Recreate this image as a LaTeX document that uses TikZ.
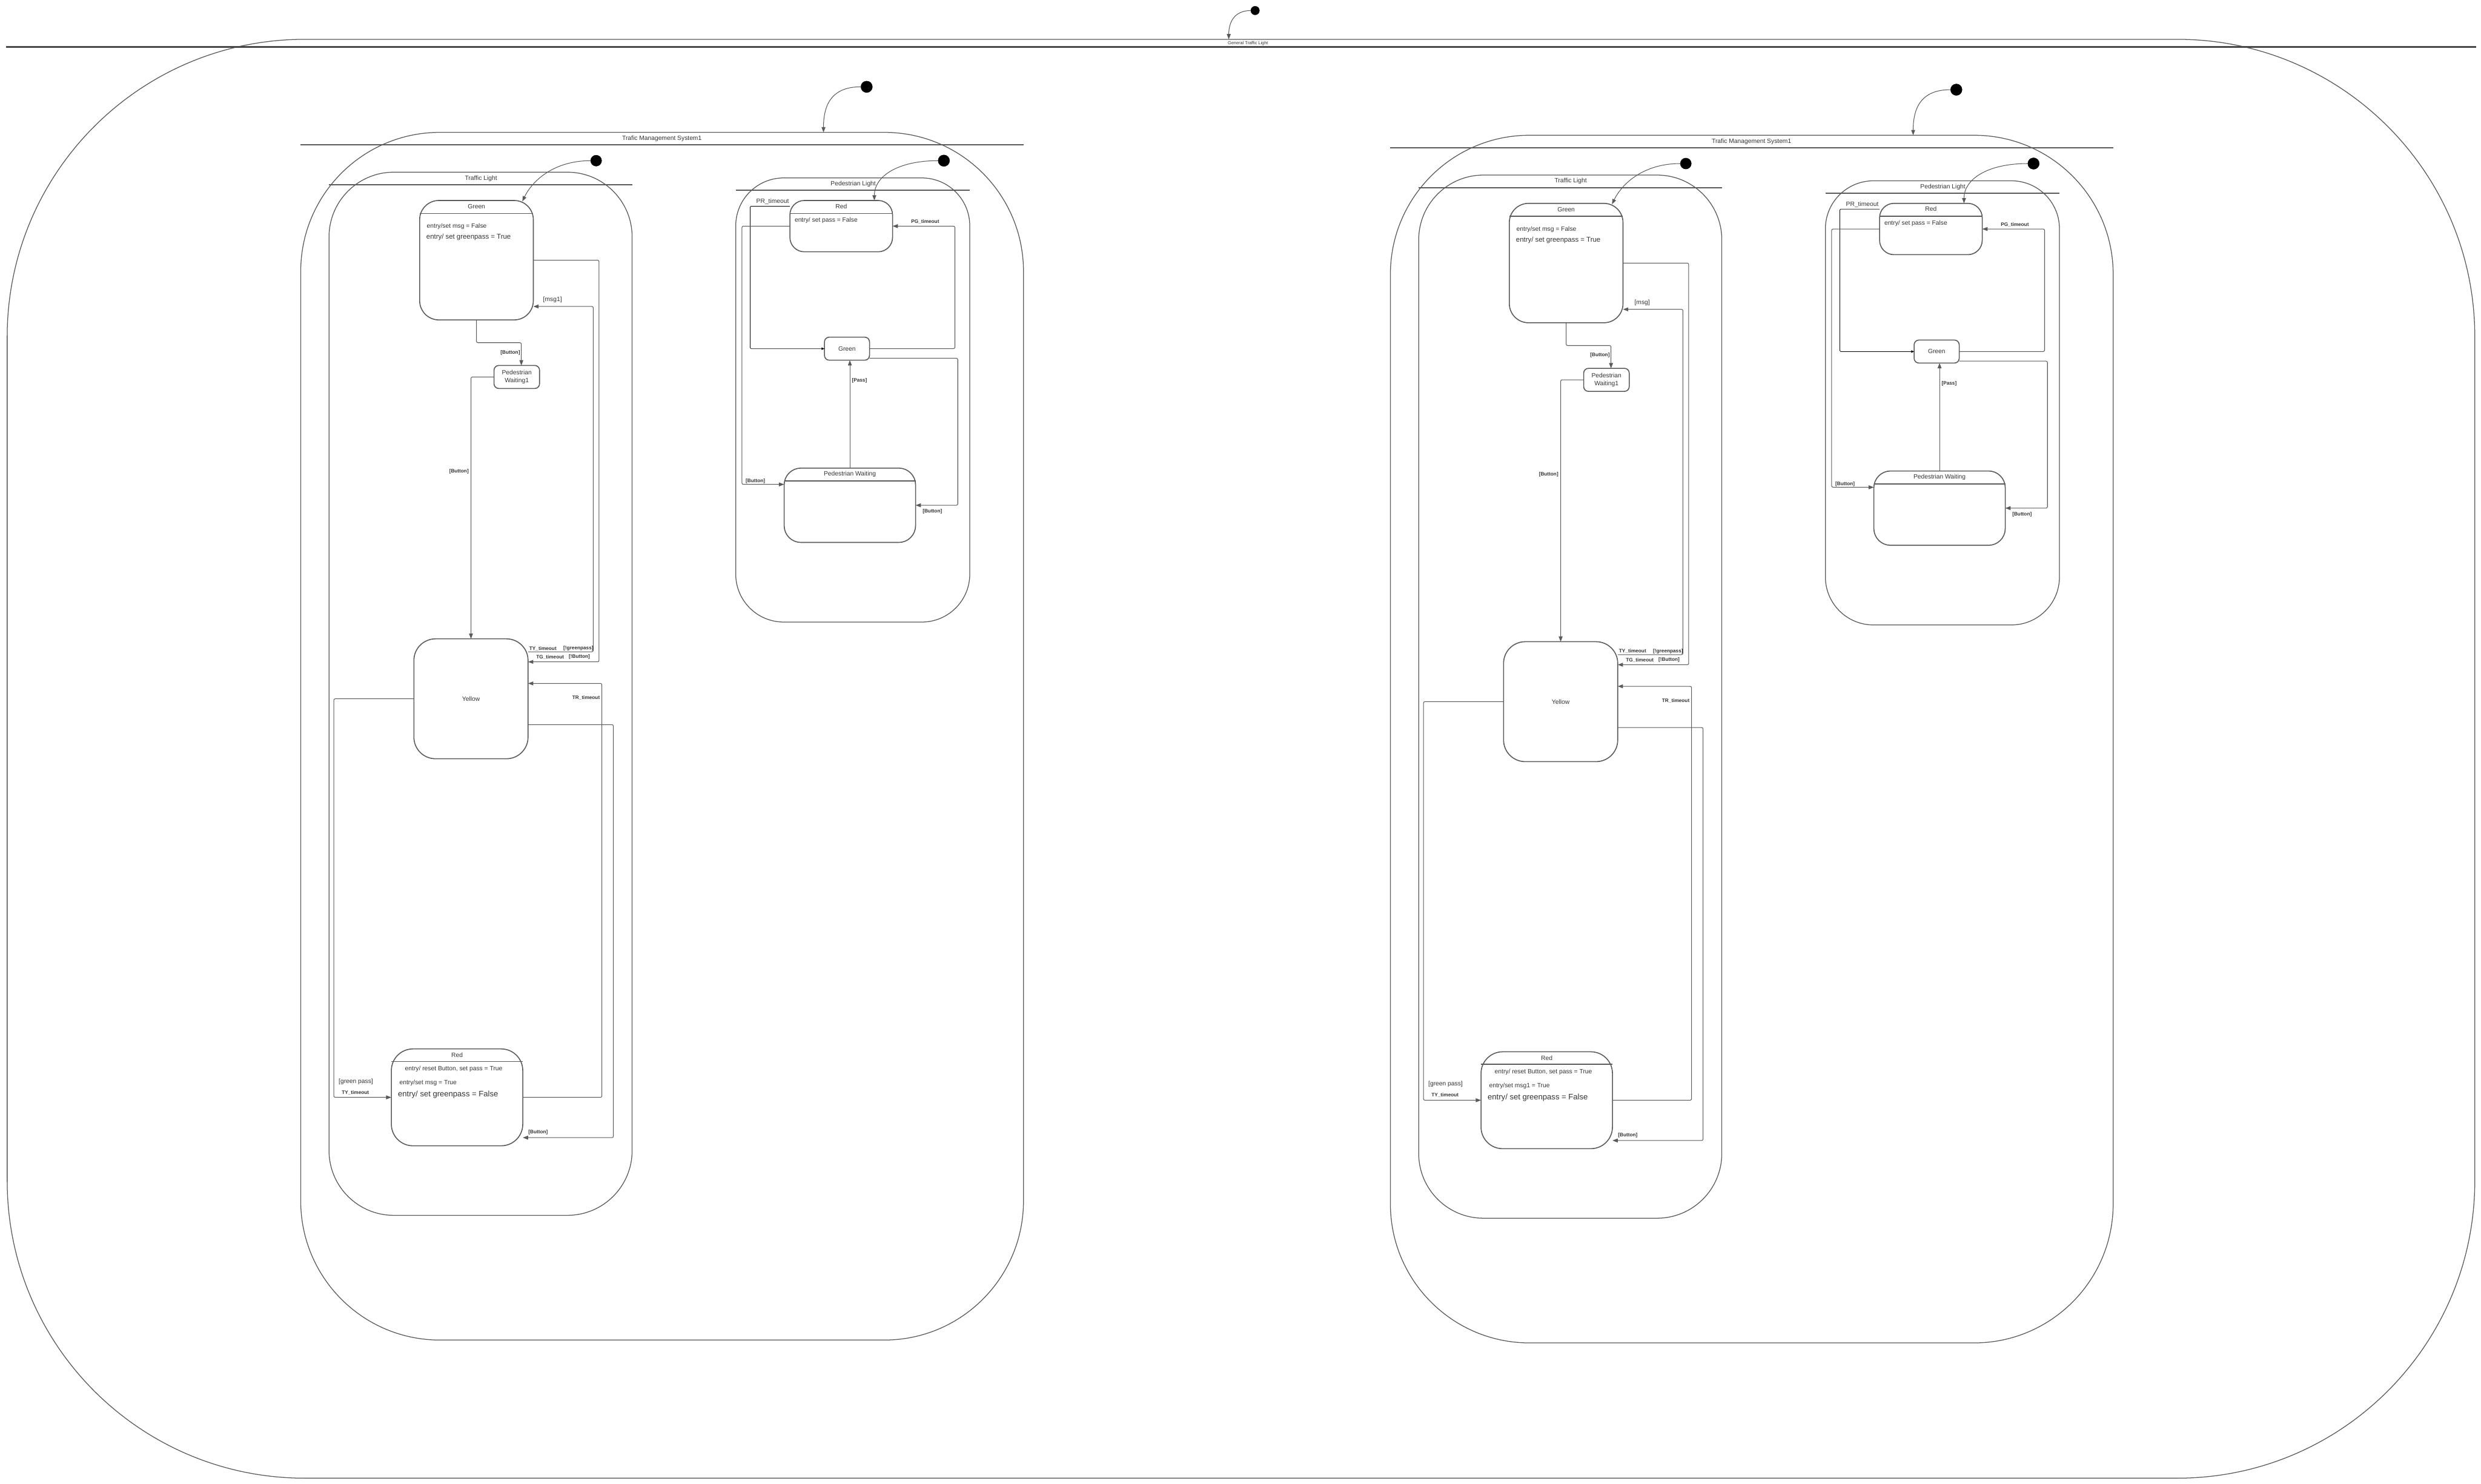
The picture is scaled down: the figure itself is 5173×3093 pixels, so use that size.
\documentclass[tikz,border=0pt]{standalone}
\usepackage{fontspec}
\setmainfont{Liberation Sans}
\usetikzlibrary{arrows.meta}
\definecolor{lc}{HTML}{5A5A5A}
\definecolor{tc}{HTML}{333333}
\tikzset{
  every node/.style={inner sep=0pt, outer sep=0pt, text=tc},
  fr/.style={draw=lc, line width=1.6pt},
  sbox/.style={draw=lc, line width=2pt},
  hdr/.style={draw=lc, line width=1.8pt},
  hdrc/.style={draw=lc, line width=2.4pt},
  hdrbig/.style={draw=lc!80!black, line width=3.5pt},
  arr/.style={draw=lc, line width=1.3pt, rounded corners=3pt, -{Triangle[length=11pt,width=8pt]}},
  arrk/.style={draw=black, line width=0.9pt, rounded corners=2pt, -{Triangle[length=6pt,width=5pt]}},
  t13/.style={font=\fontsize{13}{16.5}\selectfont},
  t14/.style={font=\fontsize{14.4}{17}\selectfont},
  t165/.style={font=\fontsize{16.5}{19}\selectfont},
  t93/.style={font=\fontsize{9.3}{11}\selectfont},
  lb/.style={font=\bfseries\fontsize{10.4}{12}\selectfont},
  dot/.style={circle, fill=black, draw=black, line width=0.5pt},
}
\newcommand\trafficsys[4]{%
\begin{scope}[shift={#2}, name prefix=#1-]
  % containers
  \node[fr, rounded corners=290pt, minimum width=1507pt, minimum height=2518pt] (TMS) at (1380.5,1535) {};
  \draw[hdrc] ([yshift=-26pt]TMS.north west) -- ([yshift=-26pt]TMS.north east);
  \node[t13] (TMSt) at (1380,289) {Trafic Management System1};
  \node[fr, rounded corners=135pt, minimum width=632pt, minimum height=2175pt] (TL) at (1002,1446.5) {};
  \draw[hdrc] ([yshift=-26pt]TL.north west) -- ([yshift=-26pt]TL.north east);
  \node[t13] (TLt) at (1003,372) {Traffic Light};
  \node[fr, rounded corners=100pt, minimum width=488pt, minimum height=926pt] (PL) at (1778,834) {};
  \draw[hdrc] ([yshift=-26pt]PL.north west) -- ([yshift=-26pt]PL.north east);
  \node[t13] (PLt) at (1779,384) {Pedestrian Light};
  % traffic light states
  \node[sbox, rounded corners=40pt, minimum width=237pt, minimum height=249pt] (Green) at (993.5,542.5) {};
  \draw[hdr] ([yshift=-27pt]Green.north west) -- ([yshift=-27pt]Green.north east);
  \node[t13] (Greent) at (993.5,431) {Green};
  \node[t13, anchor=west] (Greene1) at (890,472) {entry/set msg = False};
  \node[t14, anchor=west] (Greene2) at (889,495) {entry/ set greenpass = True};
  \node[sbox, t13, rounded corners=10pt, minimum width=95pt, minimum height=48pt, align=center] (PW1) at (1077.5,786) {Pedestrian\\Waiting1};
  \node[sbox, t13, rounded corners=45pt, minimum width=238pt, minimum height=250pt] (Yellow) at (982,1457) {Yellow};
  \node[sbox, rounded corners=45pt, minimum width=274pt, minimum height=202pt] (Red) at (953,2288) {};
  \draw[hdr] ([yshift=-26pt]Red.north west) -- ([yshift=-26pt]Red.north east);
  \node[t13] (Redt) at (953,2200) {Red};
  \node[t13] (Rede1) at (946,2229) {entry/ reset Button, set pass = True};
  \node[t13, anchor=west] (Rede2) at (833,2258) {#4};
  \node[t165, anchor=west] (Rede3) at (830,2282) {entry/ set greenpass = False};
  % pedestrian light states
  \node[sbox, rounded corners=30pt, minimum width=214pt, minimum height=107pt] (PRed) at (1754,471.5) {};
  \draw[hdr] ([yshift=-27pt]PRed.north west) -- ([yshift=-27pt]PRed.north east);
  \node[t13] (PRedt) at (1754,430) {Red};
  \node[t13, anchor=west] (PRede) at (1657,460) {entry/ set pass = False};
  \node[sbox, t13, rounded corners=10pt, minimum width=94pt, minimum height=48pt] (PGreen) at (1766,727) {Green};
  \node[sbox, rounded corners=35pt, minimum width=274pt, minimum height=155pt] (PWait) at (1772,1053.5) {};
  \draw[hdr] ([yshift=-27pt]PWait.north west) -- ([yshift=-27pt]PWait.north east);
  \node[t13] (PWaitt) at (1772,989) {Pedestrian Waiting};
  % initial pseudo states
  \node[dot, minimum size=24pt] (TMSi) at (1807,181) {};
  \node[dot, minimum size=23pt] (TLi) at (1243,335) {};
  \node[dot, minimum size=24pt] (PLi) at (1968,335) {};
  \draw[arr] (TMSi.west) .. controls +(-55,0) and +(0,-65) .. ([xshift=336.5pt]TMS.north);
  \draw[arr] (TLi.west) .. controls +(-75,0) and +(22,-45) .. ([xshift=95.5pt,yshift=-2pt]Green.north);
  \draw[arr] (PLi.west) .. controls +(-85,0) and +(0,-50) .. ([xshift=69pt]PRed.north);
  % traffic light transitions
  \draw[arr] (Green.south) -- ++(0,47.5) -| ([xshift=9.5pt]PW1.north);
  \node[lb] (l1) at (1064,735) {[Button]};
  \draw[arr] (PW1.west) -| (Yellow.north);
  \node[lb] (l2) at (957,983) {[Button]};
  \draw[arr] (Green.east) -- ++(137,0) |- ([yshift=77pt]Yellow.east);
  \node[lb] (l3) at (1147,1370) {TG\_timeout};
  \node[lb] (l4) at (1208,1370) {[!Button]};
  \draw[arr] ([yshift=98pt]Yellow.east) -- ++(136,0) |- ([yshift=-96.5pt]Green.east);
  \node[lb] (l5) at (1132,1352) {TY\_timeout};
  \node[lb] (l6) at (1206,1352) {[!greenpass]};
  \node[t13] (l7) at (1152,625) {#3};
  \draw[arr] ([yshift=-54pt]Yellow.east) -- ++(178,0) |- ([yshift=-84pt]Red.east);
  \node[lb] (l8) at (1122,2361) {[Button]};
  \draw[arr] (Red.east) -- ++(165,0) |- ([yshift=32pt]Yellow.east);
  \node[lb] (l9) at (1222,1455) {TR\_timeout};
  \draw[arr] (Yellow.west) -- ++(-167,0) |- (Red.west);
  \node[t13] (l10) at (742,2255) {[green pass]};
  \node[lb] (l11) at (741,2278) {TY\_timeout};
  % pedestrian light transitions
  \draw[arrk] ([yshift=41.5pt]PRed.west) -- ++(-83,0) |- (PGreen.west);
  \node[t13] (l12) at (1611,420) {PR\_timeout};
  \draw[arr] (PGreen.east) -- ++(178,0) |- (PRed.east);
  \node[lb] (l13) at (1929,462) {PG\_timeout};
  \draw[arr] (PRed.west) -- ++(-100,0) |- ([yshift=43.5pt]PWait.west);
  \node[lb] (l14) at (1575,1003) {[Button]};
  \draw[arr] ([yshift=-20pt]PGreen.east) -- ++(184,0) |- (PWait.east);
  \node[lb] (l15) at (1944,1067) {[Button]};
  \draw[arr] (PWait.north) -- (PWait.north |- PGreen.south);
  \node[lb] (l16) at (1792,794) {[Pass]};
\end{scope}}
\begin{document}
\begin{tikzpicture}[x=1pt,y=-1pt]
  \useasboundingbox (0,0) rectangle (5173,3093);
  \fill[white] (0,0) rectangle (5173,3093);
  % outer frame
  \node[fr, rounded corners=620pt, minimum width=5145pt, minimum height=3000pt] (GTL) at (2587.5,1582) {};
  \draw[hdrbig] ([xshift=-2pt,yshift=-16pt]GTL.north west) -- ([xshift=3pt,yshift=-16pt]GTL.north east);
  \node[t93] (GTLt) at (2602,90) {General Traffic Light};
  \node[dot, minimum size=18pt] (GTLi) at (2617,22) {};
  \draw[arr] (GTLi.west) .. controls +(-35,0) and +(0,-35) .. ([xshift=-25.5pt]GTL.north);
  \trafficsys{L}{(0,0)}{[msg1]}{entry/set msg = True}
  \trafficsys{R}{(2272,6)}{[msg]}{entry/set msg1 = True}
\end{tikzpicture}
\end{document}
